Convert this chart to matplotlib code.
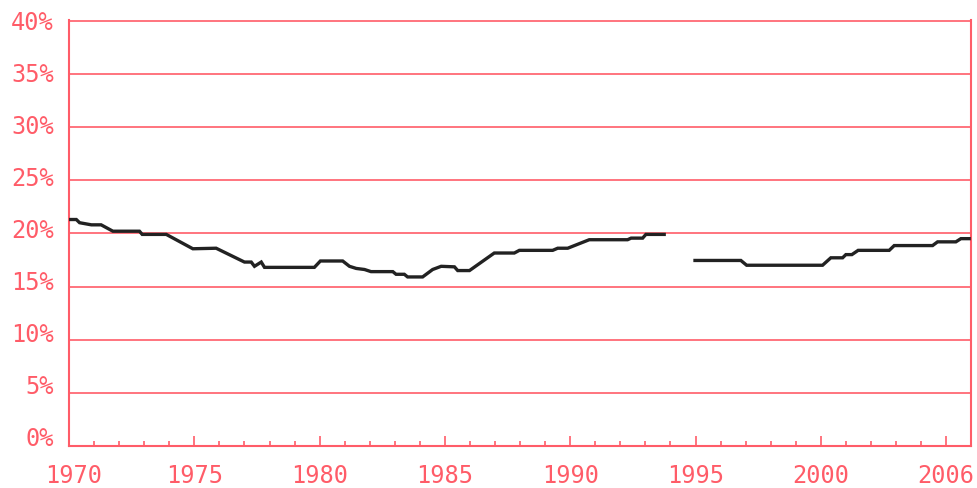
import numpy as np
import matplotlib
matplotlib.use('Agg')
import matplotlib.pyplot as plt
import matplotlib.transforms as mtransforms

red = '#ff5c68'

# share (%), by fractional year
years_a = [1970.0, 1970.29, 1970.42, 1970.89, 1971.28, 1971.75, 1972.81, 1972.92, 1973.88,
           1974.94, 1975.87, 1977.0, 1977.27, 1977.4, 1977.67, 1977.8, 1979.79, 1980.03,
           1980.92, 1981.19, 1981.46, 1981.79, 1982.05, 1982.92, 1983.05, 1983.38, 1983.51,
           1984.11, 1984.51, 1984.85, 1985.38, 1985.51, 1985.98, 1986.97, 1987.77, 1987.97,
           1989.3, 1989.5, 1989.9, 1990.76, 1992.29, 1992.43, 1992.89, 1993.02, 1993.75]
share_a = [21.3, 21.3, 21.0, 20.8, 20.8, 20.2, 20.2, 19.9, 19.9,
           18.55, 18.6, 17.3, 17.3, 16.9, 17.3, 16.8, 16.8, 17.4,
           17.4, 16.9, 16.7, 16.6, 16.4, 16.4, 16.15, 16.15, 15.9,
           15.9, 16.6, 16.9, 16.85, 16.5, 16.5, 18.15, 18.15, 18.4,
           18.4, 18.6, 18.6, 19.4, 19.4, 19.55, 19.55, 19.9, 19.9]

years_b = [1994.98, 1996.81, 1997.04, 2000.07, 2000.4, 2000.87, 2001.0, 2001.24, 2001.49,
           2002.73, 2002.93, 2004.46, 2004.66, 2005.39, 2005.59, 2005.92]
share_b = [17.45, 17.45, 17.0, 17.0, 17.7, 17.7, 18.0, 18.0, 18.4,
           18.4, 18.85, 18.85, 19.2, 19.2, 19.5, 19.5]

x_ticks = [1970, 1975, 1980, 1985, 1990, 1995, 2000, 2005]
x_labels = ['1970', '1975', '1980', '1985', '1990', '1995', '2000', '2006']
y_grid = [0, 5, 10, 15, 20, 25, 30, 35, 40]
y_labels = ['0%', '5%', '10%', '15%', '20%', '25%', '30%', '35%', '40%']

plt.rcParams['font.family'] = ['DejaVu Sans Mono']

fig = plt.figure(figsize=(9.78, 4.88), dpi=100)
ax = fig.add_axes([0.0706, 0.086, 0.9224, 0.873])

years = years_a + [np.nan] + years_b
share = share_a + [np.nan] + share_b
ax.plot(years, share, color='#222222', lw=2.4, solid_joinstyle='miter', zorder=3)

for v in y_grid:
    ax.axhline(v, color=red, lw=1.2, zorder=1)

ax.set_xlim(1970, 2006)
ax.set_ylim(0, 40)

ax.set_xticks(x_ticks)
ax.set_xticklabels(x_labels)
ax.set_xticks(range(1970, 2006), minor=True)
ax.tick_params(axis='x', which='major', direction='in', length=7.5, width=1.2,
               color=red, labelcolor=red, labelsize=17, pad=13)
ax.tick_params(axis='x', which='minor', direction='in', length=3.8, width=1.2, color=red)

# first year label is nudged right so it stays inside the frame
first = ax.get_xticklabels()[0]
first.set_transform(first.get_transform() + mtransforms.ScaledTranslation(5 / 100, 0, fig.dpi_scale_trans))

# labels sit a little above their gridlines in the original
label_pos = [0.94 + v * 0.978 for v in y_grid]
ax.set_yticks(label_pos)
ax.set_yticklabels(y_labels)
ax.tick_params(axis='y', length=0, labelcolor=red, labelsize=17, pad=11)

for side in ['left', 'right', 'bottom']:
    ax.spines[side].set_color(red)
    ax.spines[side].set_linewidth(1.5)
ax.spines['top'].set_visible(False)

fig.savefig('out.png', dpi=100)
